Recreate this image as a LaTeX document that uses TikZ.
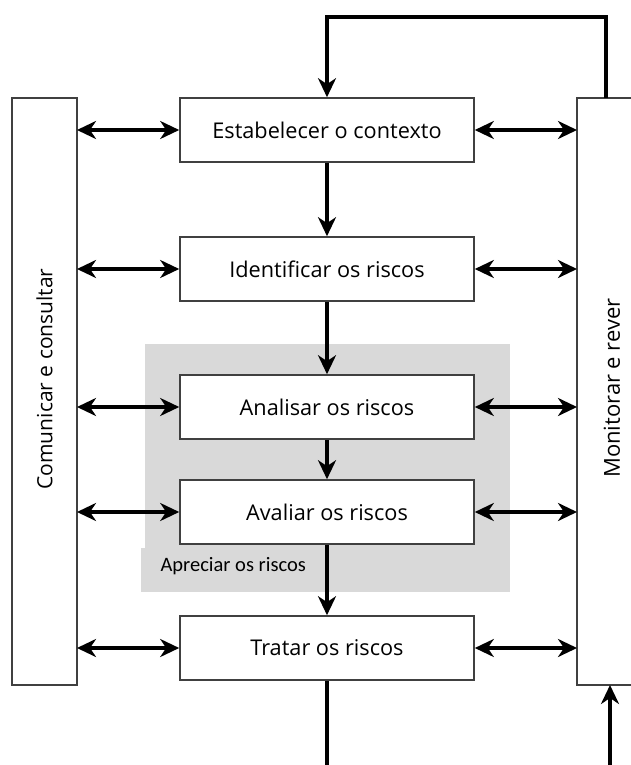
\documentclass[tikz,border=0pt]{standalone}
\usepackage{fontspec}
\setmainfont{Open Sans}
\newfontfamily\notefont{Carlito}
\usetikzlibrary{arrows.meta}
\begin{document}
\begin{tikzpicture}[x=1pt,y=-1pt,
  txt/.style={font=\fontsize{21.7}{26}\selectfont},
  stepbox/.style={draw=black!75,line width=1.6pt,fill=white,minimum width=294pt,minimum height=64pt,inner sep=0pt,txt},
  sidebox/.style={draw=black!75,line width=1.6pt,fill=white,inner sep=0pt},
  tip/.tip={Stealth[length=19pt,width=18pt,inset=6pt]},
  flow/.style={line width=3.2pt,-tip},
  both/.style={line width=3.2pt,tip-tip}]
\useasboundingbox (0,0) rectangle (631,765);
% risk assessment group
\fill[black!15] (145,344) rectangle (510,592);
\fill[black!15] (141,548) rectangle (146,592);
\node[anchor=west,font=\notefont\fontsize{20.5}{24}\selectfont] (apr) at (157,566) {Apreciar os riscos};
% side boxes
\draw[sidebox] (12,98) rectangle (77,685);
\node[rotate=90,font=\fontsize{21}{25}\selectfont] (com) at (44.5,379) {Comunicar e consultar};
\draw[sidebox] (577,98) rectangle (640,685);
\node[rotate=90,font=\fontsize{22}{26}\selectfont] (mon) at (612,388) {Monitorar e rever};
\coordinate (L) at (77,0);
\coordinate (R) at (577,0);
% process steps
\node[stepbox] (s1) at (327,130) {Estabelecer o contexto};
\node[stepbox] (s2) at (327,269) {Identificar os riscos};
\node[stepbox] (s3) at (327,407) {Analisar os riscos};
\node[stepbox] (s4) at (327,512) {Avaliar os riscos};
\node[stepbox] (s5) at (327,648) {Tratar os riscos};
% sequence
\draw[flow] (s1) -- (s2);
\draw[flow] (s2) -- (s3);
\draw[flow] (s3) -- (s4);
\draw[flow] (s4) -- (s5);
% exchanges with the side boxes
\foreach \s in {s1,s2,s3,s4,s5}{
  \draw[both] (L |- \s.west) -- (\s.west);
  \draw[both] (\s.east) -- (R |- \s.east);
}
% feedback loops
\coordinate (t1) at (606,98);
\coordinate (t2) at (606,17);
\coordinate (t3) at (327,17);
\draw[flow] (t1) -- (t2) -- (t3) -- (s1.north);
\coordinate (b1) at (327,770);
\draw[line width=3.2pt] (s5.south) -- (b1);
\coordinate (b2) at (610,770);
\coordinate (b3) at (610,685);
\draw[flow] (b2) -- (b3);
\end{tikzpicture}
\end{document}
